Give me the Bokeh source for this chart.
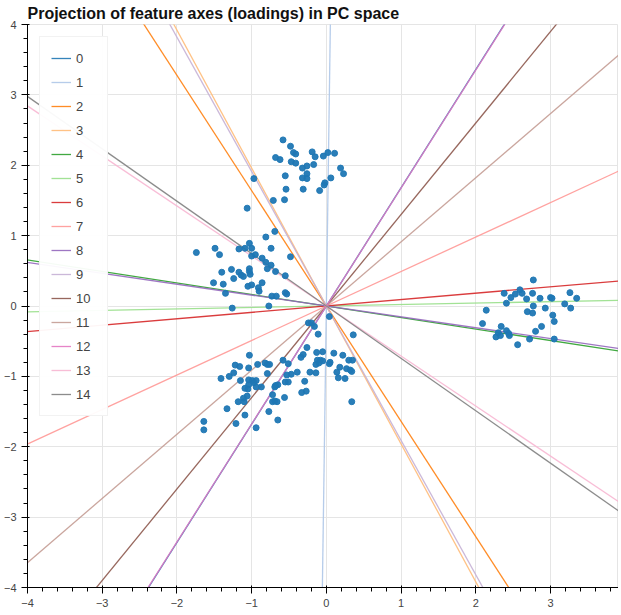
from bokeh.plotting import figure
from bokeh.models import Range1d
from bokeh.embed import file_html
from bokeh.resources import INLINE

# Loadings (PC1, PC2) for each feature
feature_names = [str(i) for i in range(15)]
load_pc1 = [0.200, 0.004, -0.180, -0.150, 0.330, 0.340, 0.330, 0.300, 0.330, -0.155, 0.220, 0.260, 0.201, -0.280, -0.270]
load_pc2 = [0.336, 0.300, 0.295, 0.294, -0.054, 0.007, 0.030, 0.147, -0.051, 0.296, 0.286, 0.237, 0.337, 0.199, 0.201]

colors = ["#1f77b4", "#aec7e8", "#ff7f0e", "#ffbb78", "#2ca02c", "#98df8a", "#d62728", "#ff9896",
          "#9467bd", "#c5b0d5", "#8c564b", "#c49c94", "#e377c2", "#f7b6d2", "#7f7f7f"]

# Projected samples (PC1, PC2)
pc1 = [
    # top cluster
    -0.58, -0.48, -0.44, -0.41, -0.68, -0.62, -0.47, -0.41, -0.19, -0.15, -0.04, 0.02, 0.11, -0.32, -0.26, -0.17,
    0.19, 0.23, -0.26, -0.32, -0.26, -0.55, 0.06, -0.02, -0.03, -0.97, -0.54, -0.31, -0.09, -0.71, -0.56, -1.06,
    # left cluster
    -1.74, -1.49, -1.43, -1.40, -1.27, -1.51, -1.38, -1.35, -1.24, -1.17, -1.14, -1.11, -1.17, -1.09, -1.03, -1.00,
    -1.00, -0.95, -0.81, -0.69, -0.74, -0.48, -0.86, -0.81, -0.74, -0.79, -0.68, -1.03, -1.03, -1.02, -0.55, -0.86,
    -1.00, -1.05, -0.91, -0.90, -0.55, -0.53, -0.73, -0.67, -0.77, -1.26,
    # bottom cluster
    -0.24, -0.20, -0.16, 0.04, -0.11, 0.36, -0.26, -0.31, -0.34, -0.13, -0.05, 0.10, 0.22, 0.30, 0.35, -0.58,
    -0.51, -0.12, -0.08, -0.05, -0.10, -0.14, 0.05, 0.04, 0.18, 0.27, 0.32, 0.34, 0.14, -0.22, -0.14, -0.39,
    -0.47, -0.53, 0.16, 0.25, -0.29, -0.51, -0.55, -0.65, -0.68, -0.27, -0.33, -0.56, -0.72, -0.72, -0.69, -0.66,
    -0.77, -0.65, 0.34, -0.94, -1.09, -1.21, -1.33, -1.64, -1.64, -1.03, -1.22, -1.16, -1.04, -0.92, -0.82, -0.79,
    -0.76, -1.24, -1.30, -1.41, -1.15, -1.04, -0.99, -0.94, -0.97, -1.04, -1.09, -1.05, -0.94, -0.87, -0.79, -1.06,
    -1.11, -1.18, -1.10, -0.69,
    # right cluster
    2.77, 2.38, 2.47, 2.53, 2.59, 2.62, 2.41, 2.68, 2.76, 2.86, 3.00, 3.02, 3.26, 3.35, 3.19, 3.27,
    2.14, 2.77, 2.93, 2.69, 2.76, 3.03, 3.05, 2.09, 2.34, 2.41, 2.44, 2.30, 2.27, 2.33, 2.45, 2.88,
    2.80, 2.72, 2.56, 3.05,
]
pc2 = [
    # top cluster
    2.36, 2.27, 2.18, 2.16, 2.11, 2.08, 2.05, 2.03, 2.19, 2.12, 2.13, 2.18, 2.17, 1.96, 1.99, 2.01,
    1.96, 1.88, 1.88, 1.82, 1.81, 1.85, 1.82, 1.75, 1.72, 1.81, 1.66, 1.66, 1.64, 1.50, 1.51, 1.39,
    # left cluster
    0.76, 0.82, 0.73, 0.48, 0.52, 0.33, 0.31, 0.18, 0.39, 0.48, 0.44, 0.42, 0.81, 0.82, 0.89, 0.82,
    0.71, 0.73, 0.98, 1.06, 0.82, 0.70, 0.68, 0.62, 0.58, 0.53, 0.49, 0.53, 0.49, 0.45, 0.43, 0.33,
    0.30, 0.28, 0.26, 0.21, 0.19, 0.17, 0.14, 0.14, 0.00, -0.03,
    # bottom cluster
    -0.24, -0.24, -0.29, -0.15, -0.40, -0.41, -0.59, -0.69, -0.73, -0.66, -0.65, -0.67, -0.70, -0.77, -0.77, -0.77,
    -0.82, -0.77, -0.77, -0.78, -0.81, -0.83, -0.80, -0.82, -0.87, -0.89, -0.91, -0.93, -0.94, -0.94, -0.95, -0.94,
    -0.97, -0.98, -1.02, -1.03, -1.07, -1.08, -1.08, -1.12, -1.13, -1.21, -1.23, -1.30, -1.26, -1.36, -1.35, -1.36,
    -1.50, -1.62, -1.36, -1.73, -1.55, -1.67, -1.46, -1.64, -1.76, -0.70, -0.84, -0.86, -0.88, -0.83, -0.81, -0.83,
    -0.83, -0.95, -1.00, -1.03, -1.06, -1.05, -1.06, -1.06, -1.09, -1.12, -1.17, -1.18, -1.15, -1.15, -0.96, -1.28,
    -1.31, -1.36, -1.36, -1.15,
    # right cluster
    0.37, 0.18, 0.12, 0.17, 0.23, 0.18, 0.04, 0.10, 0.18, 0.11, 0.12, 0.11, 0.19, 0.11, 0.03, -0.03,
    -0.06, 0.00, -0.03, -0.08, -0.10, -0.13, -0.22, -0.25, -0.29, -0.35, -0.39, -0.38, -0.44, -0.42, -0.42, -0.29,
    -0.36, -0.47, -0.55, -0.47,
]

p = figure(frame_width=591, frame_height=563, output_backend="svg", toolbar_location=None,
           x_range=Range1d(-4, 3.91), y_range=Range1d(-4, 4),
           title="Projection of feature axes (loadings) in PC space",
           min_border_right=0, min_border_top=0, min_border_bottom=0, min_border_left=0)
p.title.text_font_size = "16px"
p.title.text_color = "#111111"
p.title.standoff = 5

ext = 60.0
for i, name in enumerate(feature_names):
    vx, vy = load_pc1[i], load_pc2[i]
    p.line([-ext * vx, ext * vx], [-ext * vy, ext * vy], line_color=colors[i],
           line_width=1.3, line_alpha=0.9, legend_label=name)

p.scatter(pc1, pc2, size=6, color="#1f77b4", alpha=0.95)

p.legend.location = "top_left"
p.legend.label_text_font_size = "13px"
p.legend.spacing = 4
p.legend.margin = 12
p.legend.padding = 11
p.xaxis.major_label_text_font_size = "11px"
p.yaxis.major_label_text_font_size = "11px"

open("out.html", "w").write(file_html(p, INLINE))
